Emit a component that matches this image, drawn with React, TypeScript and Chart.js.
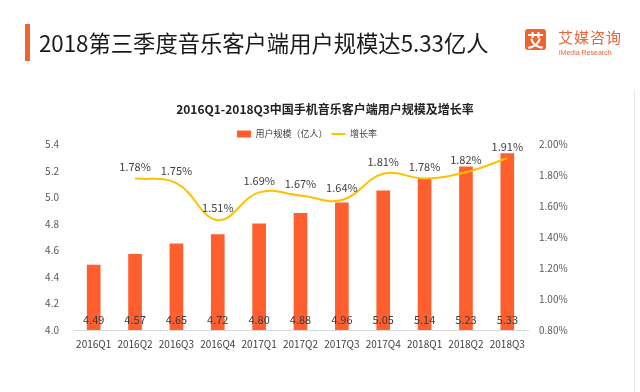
import React, { useEffect, useRef } from "react";
import { Chart, registerables } from "chart.js";

Chart.register(...registerables);

const categories = ["2016Q1", "2016Q2", "2016Q3", "2016Q4", "2017Q1", "2017Q2", "2017Q3", "2017Q4", "2018Q1", "2018Q2", "2018Q3"];
const users = [4.49, 4.57, 4.65, 4.72, 4.8, 4.88, 4.96, 5.05, 5.14, 5.23, 5.33];
const growth = [null, 1.78, 1.75, 1.51, 1.69, 1.67, 1.64, 1.81, 1.78, 1.82, 1.91];
const leftTicks = [4.0, 4.2, 4.4, 4.6, 4.8, 5.0, 5.2, 5.4];
const rightTicks = [0.8, 1.0, 1.2, 1.4, 1.6, 1.8, 2.0];

const FONT = "'Noto Sans CJK SC', 'Noto Sans', sans-serif";
const BAR = "#FF5F2E";
const LINE = "#FFC000";

const labelPlugin = {
  id: "valueLabels",
  afterInit(chart: any) {
    const shift = (box: any, dx: number, dh: number) => {
      if (!box) return;
      const origDraw = box.draw.bind(box);
      box.draw = function (...args: any[]) {
        const c = this.ctx;
        c.save();
        c.translate(dx, 0);
        origDraw(...args);
        c.restore();
      };
      if (dh) {
        const origFit = box.fit.bind(box);
        box.fit = function (...args: any[]) {
          origFit(...args);
          this.height -= dh;
        };
      }
    };
    shift(chart.titleBlock, 26, 0);
    shift(chart.legend, 8, 4);
  },
  afterDatasetsDraw(chart: any) {
    const ctx = chart.ctx;
    ctx.save();
    ctx.font = `11px ${FONT}`;
    ctx.fillStyle = "#3a3a3a";
    ctx.textAlign = "center";
    ctx.textBaseline = "middle";
    const barMeta = chart.getDatasetMeta(0);
    const yScale = chart.scales.y;
    barMeta.data.forEach((el: any, i: number) => {
      ctx.fillText(users[i].toFixed(2), el.x, yScale.bottom - 10);
    });
    const lineMeta = chart.getDatasetMeta(1);
    ctx.fillStyle = "#404040";
    lineMeta.data.forEach((el: any, i: number) => {
      const v = growth[i];
      if (v == null) return;
      ctx.fillText(v.toFixed(2) + "%", el.x, el.y - 12);
    });
    ctx.restore();
  },
};

function ChartView() {
  const ref = useRef<HTMLCanvasElement | null>(null);
  useEffect(() => {
    if (!ref.current) return;
    const chart = new Chart(ref.current, {
      data: {
        labels: categories,
        datasets: [
          {
            type: "bar",
            label: "用户规模（亿人）",
            data: users,
            backgroundColor: BAR,
            borderWidth: 0,
            barThickness: 13,
            yAxisID: "y",
            order: 2,
          },
          {
            type: "line",
            label: "增长率",
            data: growth,
            borderColor: LINE,
            backgroundColor: LINE,
            borderWidth: 2,
            pointRadius: 0,
            tension: 0.4,
            cubicInterpolationMode: "default",
            yAxisID: "y1",
            order: 1,
          },
        ],
      } as any,
      options: {
        animation: false,
        responsive: false,
        maintainAspectRatio: false,
        layout: { padding: { left: 30, right: 72, top: 102, bottom: 40 } },
        plugins: {
          title: {
            display: true,
            text: "2016Q1-2018Q3中国手机音乐客户端用户规模及增长率",
            color: "#222",
            font: { family: FONT, size: 12, weight: "bold" },
            padding: { top: 0, bottom: 9 },
          },
          legend: {
            display: true,
            labels: {
              color: "#404040",
              font: { family: FONT, size: 9 },
              usePointStyle: true,
              pointStyleWidth: 14,
              boxWidth: 14,
              boxHeight: 7,
              padding: 4,
              generateLabels: () => [
                { text: "用户规模（亿人）", fillStyle: BAR, strokeStyle: BAR, lineWidth: 0, datasetIndex: 0, fontColor: "#404040", pointStyle: "rect" },
                { text: "增长率", fillStyle: LINE, strokeStyle: LINE, lineWidth: 2, datasetIndex: 1, fontColor: "#404040", pointStyle: "line" },
              ],
            },
          },
          tooltip: { enabled: false },
        },
        scales: {
          x: {
            grid: { display: false, drawTicks: false },
            border: { display: true, color: "#d9d9d9", width: 1 },
            ticks: { color: "#404040", font: { family: FONT, size: 10 }, padding: 8, maxRotation: 0, autoSkip: false },
            afterFit: (s: any) => { s.height = 22; },
          },
          y: {
            position: "left",
            min: 4.0,
            max: 5.4,
            afterBuildTicks: (s: any) => { s.ticks = leftTicks.map((v) => ({ value: v })); },
            grid: { display: false, drawTicks: false },
            border: { display: false },
            ticks: { color: "#595959", font: { family: FONT, size: 10 }, padding: 14, callback: (v: any) => Number(v).toFixed(1) },
            afterFit: (s: any) => { s.width = 43; },
          },
          y1: {
            position: "right",
            min: 0.8,
            max: 2.0,
            afterBuildTicks: (s: any) => { s.ticks = rightTicks.map((v) => ({ value: v })); },
            grid: { display: false, drawTicks: false },
            border: { display: false },
            ticks: { color: "#595959", font: { family: FONT, size: 10 }, padding: 11, callback: (v: any) => Number(v).toFixed(2) + "%" },
            afterFit: (s: any) => { s.width = 40; },
          },
        },
      } as any,
      plugins: [labelPlugin],
    });
    return () => chart.destroy();
  }, []);
  return <canvas ref={ref} width={640} height={392} style={{ position: "absolute", left: 0, top: 0, width: 640, height: 392 }} />;
}

export default function App() {
  return (
    <div style={{ position: "fixed", left: 0, top: 0, width: 640, height: 392, background: "#fff", overflow: "hidden", fontFamily: FONT }}>
      <ChartView />
      <div style={{ position: "absolute", left: 25, top: 24, width: 5, height: 37, background: "#F0622F" }} />
      <div style={{ position: "absolute", left: 39, top: 27, fontSize: 22.3, lineHeight: "30px", color: "#1a1a1a", whiteSpace: "nowrap" }}>
        2018第三季度音乐客户端用户规模达5.33亿人
      </div>
      <div style={{ position: "absolute", left: 525, top: 29, width: 21, height: 21, background: "#F0622F", borderRadius: 3, color: "#fff", fontSize: 17, lineHeight: "21px", textAlign: "center", fontWeight: "bold" }}>
        艾
      </div>
      <div style={{ position: "absolute", left: 558, top: 28, fontSize: 15, lineHeight: "18px", color: "#F0622F", whiteSpace: "nowrap", letterSpacing: 1 }}>
        艾媒咨询
      </div>
      <div style={{ position: "absolute", left: 559, top: 48, fontSize: 7, lineHeight: "9px", color: "#F0622F", whiteSpace: "nowrap", fontFamily: "'Liberation Sans', Arial, sans-serif" }}>
        iMedia Research
      </div>
      <div style={{ position: "absolute", left: 634, top: 90, width: 1, height: 302, background: "#e6e6e6" }} />
    </div>
  );
}
